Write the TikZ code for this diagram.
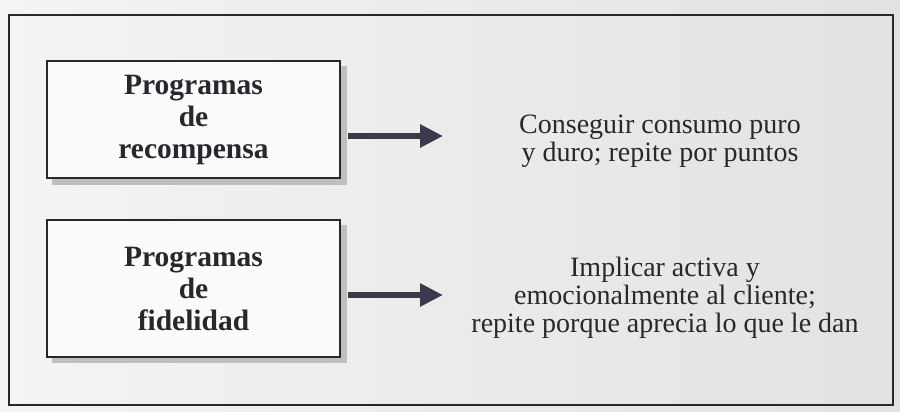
\documentclass[tikz,border=0pt]{standalone}
\usepackage{fontspec}
\setmainfont{Liberation Serif}
\usetikzlibrary{positioning,arrows.meta}

\definecolor{papel}{HTML}{F4F4F2}
\definecolor{papelosc}{HTML}{E2E2E0}
\definecolor{tinta}{HTML}{27272F}
\definecolor{flechacol}{HTML}{3A3A4C}

\begin{document}
\begin{tikzpicture}[
      x=1pt, y=-1pt,
      programa/.style={
        rectangle, draw=tinta, line width=1.2pt,
        fill=white!50!papel,
        align=center, text=tinta,
        minimum width=293pt,
        font=\fontsize{29.5}{32}\selectfont\bfseries
      },
      sombra/.style={fill=gray!50, draw=none},
      objetivo/.style={
        align=center, text=tinta, inner sep=0pt,
        font=\fontsize{28}{28}\selectfont
      },
      flecha/.style={
        draw=flechacol, line width=6.5pt,
        -{Triangle[length=23pt, width=22pt]}
      }
    ]
    \useasboundingbox (0,0) rectangle (900,412);
    \shade[left color=papel, right color=papelosc] (0,0) rectangle (900,412);

    % marco exterior
    \draw[tinta, line width=1.6pt] (9,15) rectangle (893,405);

    % sombras de las cajas
    \fill[sombra] (52,66) rectangle (347,185);
    \fill[sombra] (52,225) rectangle (347,363);

    % cajas de la izquierda
    \node[programa, minimum height=117pt] (recomp) at (193.5,119.5)
        {Programas\\de\\recompensa};
    \node[programa, minimum height=137pt] (fidel) at (193.5,288.5)
        {Programas\\de\\fidelidad};

    % textos de la derecha
    \node[objetivo] (consumo) at (660,141)
        {Conseguir consumo puro\\y duro; repite por puntos};
    \node[objetivo] (implicar) at (665,298)
        {Implicar activa y\\emocionalmente al cliente;\\repite porque aprecia lo que le dan};

    \coordinate (fin1) at (443,136);
    \coordinate (fin2) at (443,295);

    \draw[flecha] ([xshift=7pt]recomp.east |- fin1) -- (fin1);
    \draw[flecha] ([xshift=7pt]fidel.east |- fin2) -- (fin2);
\end{tikzpicture}
\end{document}
